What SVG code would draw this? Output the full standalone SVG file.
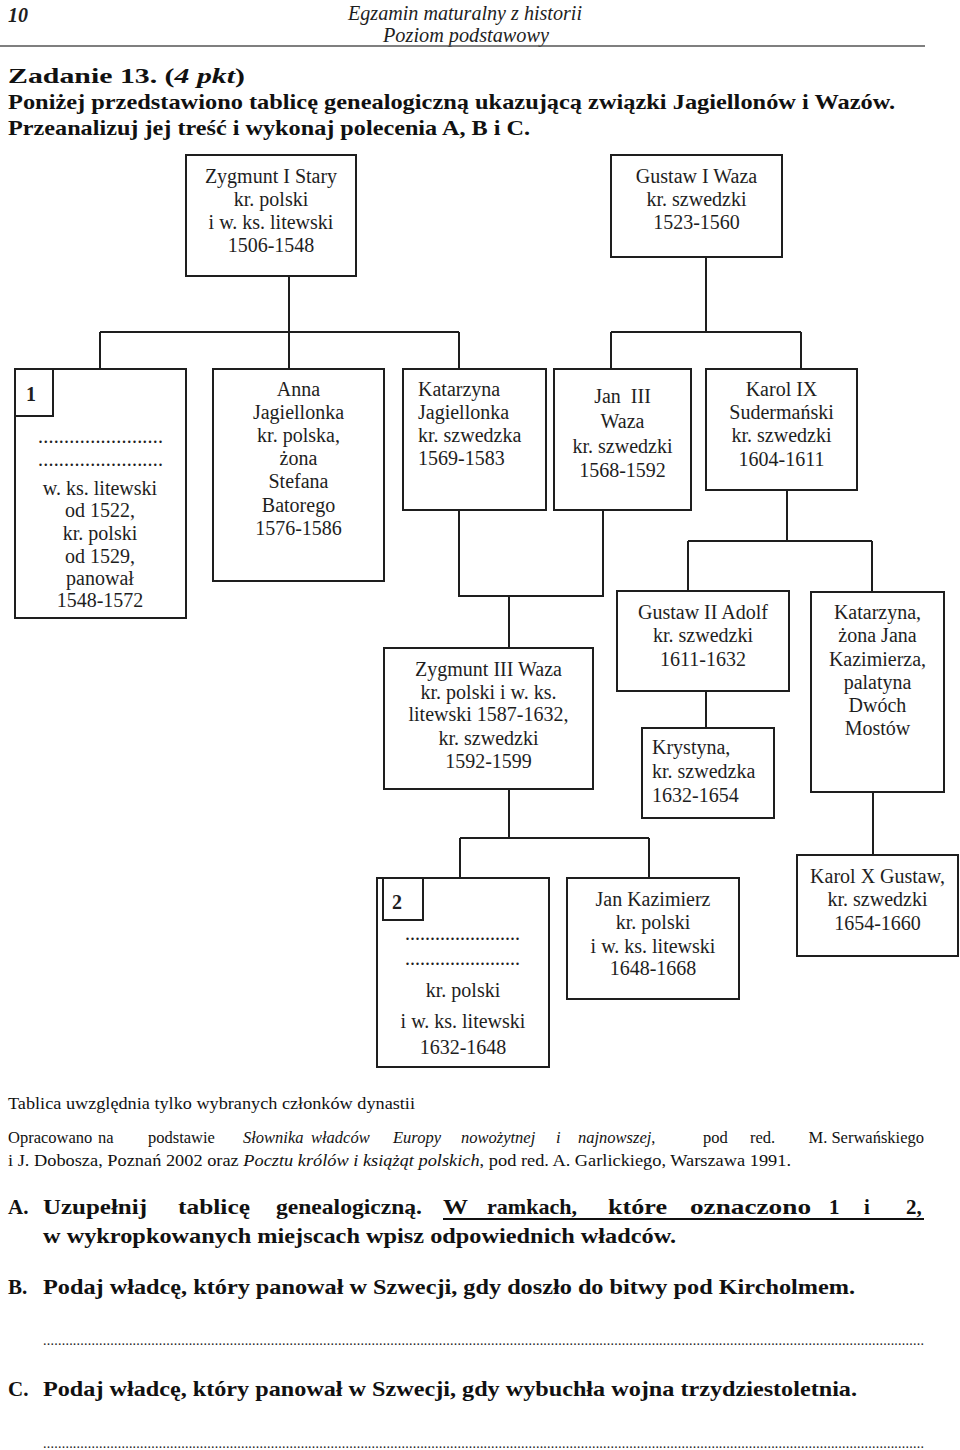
<svg xmlns="http://www.w3.org/2000/svg" width="960" height="1450" viewBox="0 0 960 1450">
<style>
.bg{fill:#fff}
.box{fill:#fff;stroke:#1e1e1e;stroke-width:2}
.conn{fill:none;stroke:#1e1e1e;stroke-width:2}
.t{font-family:'Liberation Serif','Times New Roman',serif;font-size:20px;fill:#1e1e1e}
.c{text-anchor:middle}
.b{font-weight:bold}
.i{font-style:italic}
.q{font-family:'Liberation Serif','Times New Roman',serif;font-size:21px;font-weight:bold;fill:#111}
.f{font-family:'Liberation Serif','Times New Roman',serif;font-size:16.5px;fill:#111}
.d{font-family:'Liberation Serif','Times New Roman',serif;font-size:14px;fill:#222}
</style>
<rect class="bg" x="0" y="0" width="960" height="1450"/>

<g id="header">
<text class="t b i" x="8" y="22" font-size="19">10</text>
<text class="t i c" x="465" y="20" font-size="19" textLength="234" lengthAdjust="spacingAndGlyphs">Egzamin maturalny z historii</text>
<text class="t i c" x="466" y="42" font-size="19" textLength="166" lengthAdjust="spacingAndGlyphs">Poziom podstawowy</text>
<line x1="0" y1="46" x2="925" y2="46" stroke="#555" stroke-width="1.5"/>
<text class="q" x="8" y="83" font-size="26" textLength="237" lengthAdjust="spacingAndGlyphs">Zadanie  13.  (<tspan class="i">4 pkt</tspan>)</text>
<text class="q" x="8" y="109" textLength="887" lengthAdjust="spacingAndGlyphs">Poniżej przedstawiono tablicę genealogiczną ukazującą związki Jagiellonów i Wazów.</text>
<text class="q" x="8" y="135" textLength="522" lengthAdjust="spacingAndGlyphs">Przeanalizuj jej treść i wykonaj polecenia A, B i C.</text>
</g>

<g id="connectors">
<path class="conn" d="M289,276 V332 M100,332 H459 M100,332 V369 M289,332 V369 M459,332 V369"/>
<path class="conn" d="M706,257 V332 M611,332 H801 M611,332 V369 M801,332 V369"/>
<path class="conn" d="M459,510 V596 H603 V510 M509,596 V648"/>
<path class="conn" d="M787,490 V541 M688,541 H872 M688,541 V591 M872,541 V592"/>
<path class="conn" d="M706,691 V728"/>
<path class="conn" d="M509,789 V838 M460,838 H649 M460,838 V878 M649,838 V878"/>
<path class="conn" d="M873,792 V855"/>
</g>

<g id="zygmunt1">
<rect class="box" x="186" y="155" width="170" height="121"/>
<text class="t c"><tspan x="271" y="183">Zygmunt I Stary</tspan><tspan x="271" y="206">kr. polski</tspan><tspan x="271" y="229">i w. ks. litewski</tspan><tspan x="271" y="252">1506-1548</tspan></text>
</g>

<g id="gustaw1">
<rect class="box" x="611" y="155" width="171" height="102"/>
<text class="t c"><tspan x="696.5" y="183">Gustaw I Waza</tspan><tspan x="696.5" y="206">kr. szwedzki</tspan><tspan x="696.5" y="229">1523-1560</tspan></text>
</g>

<g id="box1">
<rect class="box" x="15" y="369" width="171" height="249"/>
<rect class="box" x="15" y="369" width="38" height="47"/>
<text class="t b" x="26" y="401">1</text>
<text class="t" x="38" y="443" textLength="125" lengthAdjust="spacing">........................</text>
<text class="t" x="38" y="466" textLength="125" lengthAdjust="spacing">........................</text>
<text class="t c"><tspan x="100" y="495">w. ks. litewski</tspan><tspan x="100" y="517">od 1522,</tspan><tspan x="100" y="540">kr. polski</tspan><tspan x="100" y="563">od 1529,</tspan><tspan x="100" y="585">panował</tspan><tspan x="100" y="607">1548-1572</tspan></text>
</g>

<g id="anna">
<rect class="box" x="213" y="369" width="171" height="212"/>
<text class="t c"><tspan x="298.5" y="396">Anna</tspan><tspan x="298.5" y="419">Jagiellonka</tspan><tspan x="298.5" y="442">kr. polska,</tspan><tspan x="298.5" y="465">żona</tspan><tspan x="298.5" y="488">Stefana</tspan><tspan x="298.5" y="512">Batorego</tspan><tspan x="298.5" y="535">1576-1586</tspan></text>
</g>

<g id="katarzyna-jagiellonka">
<rect class="box" x="403" y="369" width="143" height="141"/>
<text class="t"><tspan x="418" y="396">Katarzyna</tspan><tspan x="418" y="419">Jagiellonka</tspan><tspan x="418" y="442">kr. szwedzka</tspan><tspan x="418" y="465">1569-1583</tspan></text>
</g>

<g id="jan3">
<rect class="box" x="554" y="369" width="137" height="141"/>
<text class="t c" xml:space="preserve"><tspan x="622.5" y="403">Jan  III</tspan><tspan x="622.5" y="428">Waza</tspan><tspan x="622.5" y="453">kr. szwedzki</tspan><tspan x="622.5" y="477">1568-1592</tspan></text>
</g>

<g id="karol9">
<rect class="box" x="706" y="369" width="151" height="121"/>
<text class="t c"><tspan x="781.5" y="396">Karol IX</tspan><tspan x="781.5" y="419">Sudermański</tspan><tspan x="781.5" y="442">kr. szwedzki</tspan><tspan x="781.5" y="466">1604-1611</tspan></text>
</g>

<g id="zygmunt3">
<rect class="box" x="384" y="648" width="209" height="141"/>
<text class="t c"><tspan x="488.5" y="676">Zygmunt III Waza</tspan><tspan x="488.5" y="699">kr. polski i w. ks.</tspan><tspan x="488.5" y="721">litewski 1587-1632,</tspan><tspan x="488.5" y="745">kr. szwedzki</tspan><tspan x="488.5" y="768">1592-1599</tspan></text>
</g>

<g id="gustaw2">
<rect class="box" x="617" y="591" width="172" height="100"/>
<text class="t c"><tspan x="703" y="619">Gustaw II Adolf</tspan><tspan x="703" y="642">kr. szwedzki</tspan><tspan x="703" y="666">1611-1632</tspan></text>
</g>

<g id="krystyna">
<rect class="box" x="642" y="728" width="132" height="90"/>
<text class="t"><tspan x="652" y="754">Krystyna,</tspan><tspan x="652" y="778">kr. szwedzka</tspan><tspan x="652" y="802">1632-1654</tspan></text>
</g>

<g id="katarzyna2">
<rect class="box" x="811" y="592" width="133" height="200"/>
<text class="t c"><tspan x="877.5" y="619">Katarzyna,</tspan><tspan x="877.5" y="642">żona Jana</tspan><tspan x="877.5" y="666">Kazimierza,</tspan><tspan x="877.5" y="689">palatyna</tspan><tspan x="877.5" y="712">Dwóch</tspan><tspan x="877.5" y="735">Mostów</tspan></text>
</g>

<g id="box2">
<rect class="box" x="377" y="878" width="172" height="189"/>
<rect class="box" x="383" y="878" width="40" height="42"/>
<text class="t b" x="392" y="909">2</text>
<text class="t" x="405" y="940" textLength="115" lengthAdjust="spacing">.......................</text>
<text class="t" x="405" y="965" textLength="115" lengthAdjust="spacing">.......................</text>
<text class="t c"><tspan x="463" y="997">kr. polski</tspan><tspan x="463" y="1028">i w. ks. litewski</tspan><tspan x="463" y="1054">1632-1648</tspan></text>
</g>

<g id="jan-kazimierz">
<rect class="box" x="567" y="878" width="172" height="121"/>
<text class="t c"><tspan x="653" y="906">Jan Kazimierz</tspan><tspan x="653" y="929">kr. polski</tspan><tspan x="653" y="953">i w. ks. litewski</tspan><tspan x="653" y="975">1648-1668</tspan></text>
</g>

<g id="karol10">
<rect class="box" x="797" y="855" width="161" height="101"/>
<text class="t c"><tspan x="877.5" y="883">Karol X Gustaw,</tspan><tspan x="877.5" y="906">kr. szwedzki</tspan><tspan x="877.5" y="930">1654-1660</tspan></text>
</g>

<g id="footer">
<text class="f" x="8" y="1109" textLength="407" lengthAdjust="spacingAndGlyphs">Tablica uwzględnia tylko wybranych członków dynastii</text>
<text class="f" y="1143"><tspan x="8">Opracowano</tspan><tspan x="98">na</tspan><tspan x="148">podstawie</tspan><tspan class="i" x="243">Słownika</tspan><tspan class="i" x="311">władców</tspan><tspan class="i" x="393">Europy</tspan><tspan class="i" x="461">nowożytnej</tspan><tspan class="i" x="556">i</tspan><tspan class="i" x="578">najnowszej</tspan><tspan>,</tspan><tspan x="703">pod</tspan><tspan x="750">red.</tspan></text>
<text class="f" x="924" y="1143" text-anchor="end">M. Serwańskiego</text>
<text class="f" x="8" y="1166" textLength="783" lengthAdjust="spacingAndGlyphs">i  J. Dobosza, Poznań 2002 oraz <tspan class="i">Pocztu królów i książąt polskich</tspan>, pod red. A. Garlickiego, Warszawa 1991.</text>
</g>

<g id="questions">
<text class="q" x="8" y="1214">A.</text>
<text class="q" x="43" y="1214" textLength="104" lengthAdjust="spacingAndGlyphs">Uzupełnij</text>
<text class="q" x="178" y="1214" textLength="72" lengthAdjust="spacingAndGlyphs">tablicę</text>
<text class="q" x="276" y="1214" textLength="146" lengthAdjust="spacingAndGlyphs">genealogiczną.</text>
<text class="q" x="443" y="1214" textLength="25" lengthAdjust="spacingAndGlyphs">W</text>
<text class="q" x="487" y="1214" textLength="90" lengthAdjust="spacingAndGlyphs">ramkach,</text>
<text class="q" x="608" y="1214" textLength="59" lengthAdjust="spacingAndGlyphs">które</text>
<text class="q" x="690" y="1214" textLength="121" lengthAdjust="spacingAndGlyphs">oznaczono</text>
<text class="q" x="829" y="1214">1</text>
<text class="q" x="864" y="1214">i</text>
<text class="q" x="906" y="1214">2,</text>
<line x1="443" y1="1219" x2="924" y2="1219" stroke="#111" stroke-width="2"/>
<text class="q" x="43" y="1243" textLength="633" lengthAdjust="spacingAndGlyphs">w wykropkowanych miejscach wpisz odpowiednich władców.</text>
<text class="q" x="8" y="1294">B.</text>
<text class="q" x="43" y="1294" textLength="812" lengthAdjust="spacingAndGlyphs">Podaj władcę, który panował w Szwecji, gdy doszło do bitwy pod Kircholmem.</text>
<text class="d" x="43" y="1345" textLength="881" lengthAdjust="spacing">............................................................................................................................................................................................................................................</text>
<text class="q" x="8" y="1396">C.</text>
<text class="q" x="43" y="1396" textLength="814" lengthAdjust="spacingAndGlyphs">Podaj władcę, który panował w Szwecji, gdy wybuchła wojna trzydziestoletnia.</text>
<text class="d" x="43" y="1448" textLength="881" lengthAdjust="spacing">............................................................................................................................................................................................................................................</text>
</g>
</svg>
